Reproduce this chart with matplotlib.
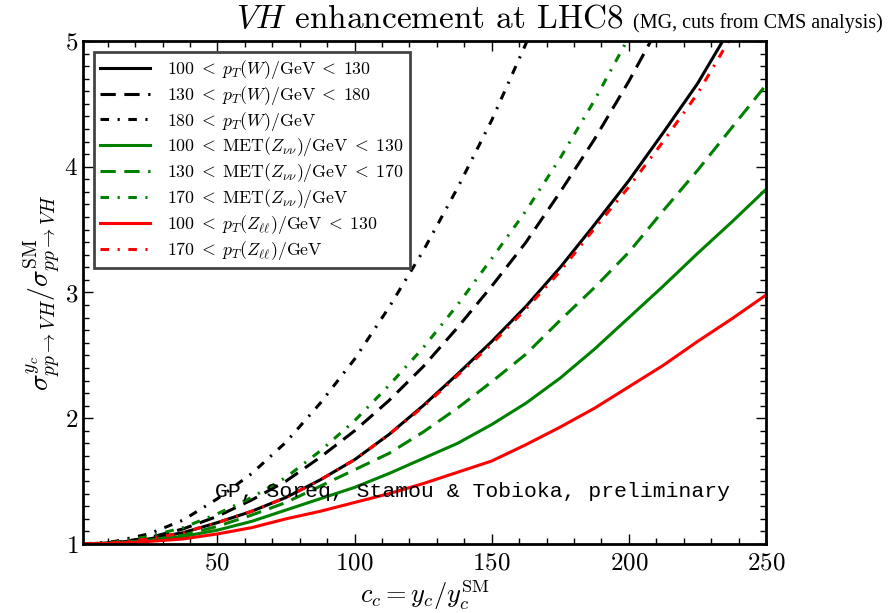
import matplotlib
matplotlib.use('Agg')
import matplotlib.pyplot as plt

plt.rcParams['mathtext.fontset'] = 'cm'
plt.rcParams['font.family'] = 'serif'
plt.rcParams['font.serif'] = ['cmr10', 'DejaVu Serif']
plt.rcParams['axes.formatter.use_mathtext'] = True

cc = [1, 12.5, 25, 37.5, 50, 62.5, 75, 87.5, 100, 112.5, 125, 137.5, 150,
      162.5, 175, 187.5, 200, 212.5, 225, 237.5, 250]

w_100_130 = [1.00, 1.01, 1.04, 1.09, 1.17, 1.26, 1.37, 1.51, 1.67, 1.87, 2.10,
             2.35, 2.61, 2.89, 3.20, 3.54, 3.89, 4.27, 4.66, 5.12, 5.55]
w_130_180 = [1.00, 1.01, 1.05, 1.12, 1.22, 1.35, 1.50, 1.69, 1.90, 2.14, 2.41,
             2.72, 3.05, 3.40, 3.80, 4.22, 4.68, 5.18, 5.70, 6.25, 6.80]
w_180 = [1.00, 1.02, 1.08, 1.19, 1.36, 1.56, 1.81, 2.12, 2.47, 2.88, 3.33,
         3.83, 4.37, 4.98, 5.60, 6.30, 7.00, 7.80, 8.60, 9.40, 10.3]
met_100_130 = [1.00, 1.005, 1.03, 1.06, 1.11, 1.18, 1.27, 1.36, 1.45, 1.56, 1.68,
               1.80, 1.95, 2.12, 2.32, 2.55, 2.80, 3.05, 3.31, 3.56, 3.82]
met_130_170 = [1.00, 1.005, 1.03, 1.07, 1.14, 1.23, 1.33, 1.46, 1.59, 1.72, 1.89,
               2.08, 2.29, 2.51, 2.78, 3.04, 3.32, 3.65, 3.97, 4.31, 4.65]
met_170 = [1.00, 1.015, 1.06, 1.13, 1.24, 1.37, 1.53, 1.74, 1.98, 2.26, 2.56,
           2.90, 3.27, 3.65, 4.07, 4.53, 5.03, 5.60, 6.20, 6.80, 7.45]
zll_100_130 = [1.00, 1.005, 1.02, 1.04, 1.08, 1.13, 1.20, 1.26, 1.33, 1.40, 1.48,
               1.57, 1.66, 1.79, 1.93, 2.08, 2.25, 2.42, 2.61, 2.79, 2.98]
zll_170 = [1.00, 1.01, 1.04, 1.09, 1.17, 1.26, 1.37, 1.51, 1.67, 1.87, 2.09,
           2.34, 2.59, 2.87, 3.17, 3.51, 3.84, 4.20, 4.58, 5.04, 5.45]

dash = (5, 2.8)
dashdot = (2.8, 2.8, 0.7, 2.8)

series = [
    (w_100_130, 'k', None, r'$100\;<\;p_T(W)/\mathrm{GeV}\;<\;130$'),
    (w_130_180, 'k', dash, r'$130\;<\;p_T(W)/\mathrm{GeV}\;<\;180$'),
    (w_180, 'k', dashdot, r'$180\;<\;p_T(W)/\mathrm{GeV}$'),
    (met_100_130, 'g', None, r'$100\;<\;\mathrm{MET}(Z_{\nu\nu})/\mathrm{GeV}\;<\;130$'),
    (met_130_170, 'g', dash, r'$130\;<\;\mathrm{MET}(Z_{\nu\nu})/\mathrm{GeV}\;<\;170$'),
    (met_170, 'g', dashdot, r'$170\;<\;\mathrm{MET}(Z_{\nu\nu})/\mathrm{GeV}$'),
    (zll_100_130, 'r', None, r'$100\;<\;p_T(Z_{\ell\ell})/\mathrm{GeV}\;<\;130$'),
    (zll_170, 'r', dashdot, r'$170\;<\;p_T(Z_{\ell\ell})/\mathrm{GeV}$'),
]

fig = plt.figure(figsize=(8.91, 6.13), dpi=100)
ax = fig.add_axes([0.0932, 0.1126, 0.7665, 0.8205])

for vals, col, dashes, lab in series:
    line, = ax.plot(cc, vals, color=col, linewidth=2.2, label=lab)
    if dashes is not None:
        line.set_dashes(dashes)

ax.set_xlim(1, 250)
ax.set_ylim(1, 5)
ax.set_xticks([50, 100, 150, 200, 250])
ax.set_yticks([1, 2, 3, 4, 5])
ax.set_xticks(range(10, 250, 10), minor=True)
ax.set_yticks([1 + i * 0.1 for i in range(41)], minor=True)
ax.tick_params(which='both', direction='in', top=True, right=True, labelsize=18)
ax.tick_params(which='major', length=7, width=1)
ax.tick_params(which='minor', length=4, width=1)
ax.tick_params(axis='x', pad=6)
for s in ax.spines.values():
    s.set_linewidth(2)

ax.set_xlabel(r'$c_c = y_c/y_c^{\rm SM}$', fontsize=19, labelpad=2)
ax.set_ylabel(r'$\sigma^{y_c}_{pp\to VH}/\sigma^{\rm SM}_{pp\to VH}$', fontsize=20, labelpad=2)

leg = ax.legend(loc='upper left', fontsize=12.8, handlelength=2.8, handletextpad=1.0,
                borderaxespad=0.6, borderpad=0.35, fancybox=False, framealpha=1,
                labelspacing=0.16)
leg.get_frame().set_edgecolor('#444444')
leg.get_frame().set_linewidth(2)

ax.text(49.2, 1.37, 'GP, Soreq, Stamou & Tobioka, preliminary',
        family='Liberation Mono', fontsize=15.4, va='baseline')

fig.text(236 / 891, 1 - 28 / 613, r'$VH$ enhancement at LHC8', fontsize=24,
         va='baseline', ha='left')
fig.text(883 / 891, 1 - 28 / 613, '(MG, cuts from CMS analysis)',
         family='Liberation Serif', fontsize=14.5, va='baseline', ha='right')

fig.savefig('out.png', dpi=100)
